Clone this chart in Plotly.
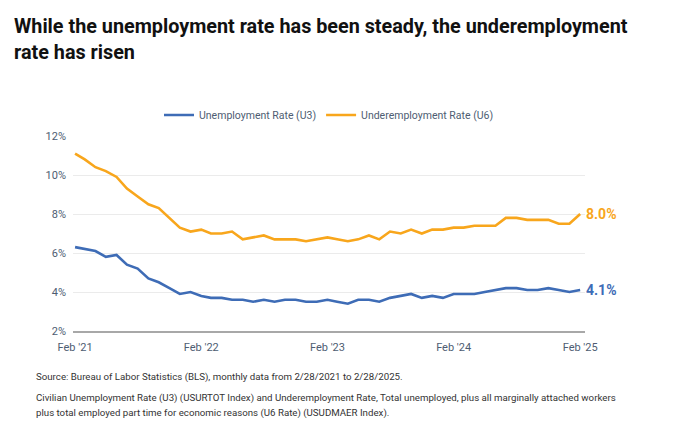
import plotly.graph_objects as go
import pandas as pd

months = pd.date_range("2021-02-01", "2025-02-01", freq="MS").strftime("%Y-%m-%d").tolist()

u3 = [6.3, 6.2, 6.1, 5.8, 5.9, 5.4, 5.2, 4.7, 4.5, 4.2, 3.9,
      4.0, 3.8, 3.7, 3.7, 3.6, 3.6, 3.5, 3.6, 3.5, 3.6, 3.6, 3.5,
      3.5, 3.6, 3.5, 3.4, 3.6, 3.6, 3.5, 3.7, 3.8, 3.9, 3.7, 3.8,
      3.7, 3.9, 3.9, 3.9, 4.0, 4.1, 4.2, 4.2, 4.1, 4.1, 4.2, 4.1,
      4.0, 4.1]

u6 = [11.1, 10.8, 10.4, 10.2, 9.9, 9.3, 8.9, 8.5, 8.3, 7.8, 7.3,
      7.1, 7.2, 7.0, 7.0, 7.1, 6.7, 6.8, 6.9, 6.7, 6.7, 6.7, 6.6,
      6.7, 6.8, 6.7, 6.6, 6.7, 6.9, 6.7, 7.1, 7.0, 7.2, 7.0, 7.2,
      7.2, 7.3, 7.3, 7.4, 7.4, 7.4, 7.8, 7.8, 7.7, 7.7, 7.7, 7.5,
      7.5, 8.0]

tick_dates = ["2021-02-01", "2022-02-01", "2023-02-01", "2024-02-01", "2025-02-01"]
tick_labels = ["Feb '21", "Feb '22", "Feb '23", "Feb '24", "Feb '25"]
y_ticks = [2, 4, 6, 8, 10, 12]
y_labels = [f"{v}%" for v in y_ticks]

BLUE = "#3E6CB6"
ORANGE = "#F8A61C"
SLATE = "#4E5D72"

fig = go.Figure()
fig.add_trace(go.Scatter(x=months, y=u3, mode="lines", name="Unemployment Rate (U3)",
                         line=dict(color=BLUE, width=2.6)))
fig.add_trace(go.Scatter(x=months, y=u6, mode="lines", name="Underemployment Rate (U6)",
                         line=dict(color=ORANGE, width=2.6)))

fig.add_annotation(x=months[-1], y=u6[-1], text=f"<b>{u6[-1]:.1f}%</b>", showarrow=False,
                   xanchor="left", xshift=4, font=dict(color=ORANGE, size=14, family="Roboto"))
fig.add_annotation(x=months[-1], y=u3[-1], text=f"<b>{u3[-1]:.1f}%</b>", showarrow=False,
                   xanchor="left", xshift=4, font=dict(color=BLUE, size=14, family="Roboto"))

foot = dict(xref="paper", yref="paper", showarrow=False, xanchor="left", yanchor="middle",
            align="left", font=dict(size=9.7, color="#333333", family="Roboto"))
fig.add_annotation(x=(34 - 73) / 512, y=(331 - 377) / 195,
                   text="Source: Bureau of Labor Statistics (BLS), monthly data from 2/28/2021 to 2/28/2025.", **foot)
fig.add_annotation(x=(34 - 73) / 512, y=(331 - 398) / 195,
                   text="Civilian Unemployment Rate (U3) (USURTOT Index) and Underemployment Rate, Total unemployed, plus all marginally attached workers", **foot)
fig.add_annotation(x=(34 - 73) / 512, y=(331 - 413) / 195,
                   text="plus total employed part time for economic reasons (U6 Rate) (USUDMAER Index).", **foot)

fig.update_layout(
    width=680, height=438,
    margin=dict(l=73, r=95, t=136, b=107),
    paper_bgcolor="white", plot_bgcolor="white",
    font=dict(family="Roboto", color=SLATE, size=11),
    title=dict(text="<b>While the unemployment rate has been steady, the underemployment<br>rate has risen</b>",
               x=14 / 680, xanchor="left", xref="container", y=1 - 33 / 438, yanchor="top",
               yref="container", font=dict(size=19.8, color="#111111", family="Roboto")),
    showlegend=True,
    legend=dict(orientation="h", x=0.5, xanchor="center", y=(331 - 115) / 195, yanchor="middle",
                font=dict(size=10.5, color=SLATE), itemwidth=30, bgcolor="rgba(0,0,0,0)"),
    xaxis=dict(range=["2021-01-26", "2025-02-15"], tickvals=tick_dates, ticktext=tick_labels,
               showgrid=False, showline=True, linecolor="#A8A8A8", linewidth=1.5,
               ticks="", ticklabelstandoff=5, tickfont=dict(size=11, color=SLATE), zeroline=False),
    yaxis=dict(range=[2, 12], tickvals=y_ticks, ticktext=y_labels, showgrid=True,
               gridcolor="#EBEBEB", gridwidth=1, zeroline=False, ticks="", ticklabelstandoff=6,
               tickfont=dict(size=11, color=SLATE)),
)

fig.write_html("out.html")
